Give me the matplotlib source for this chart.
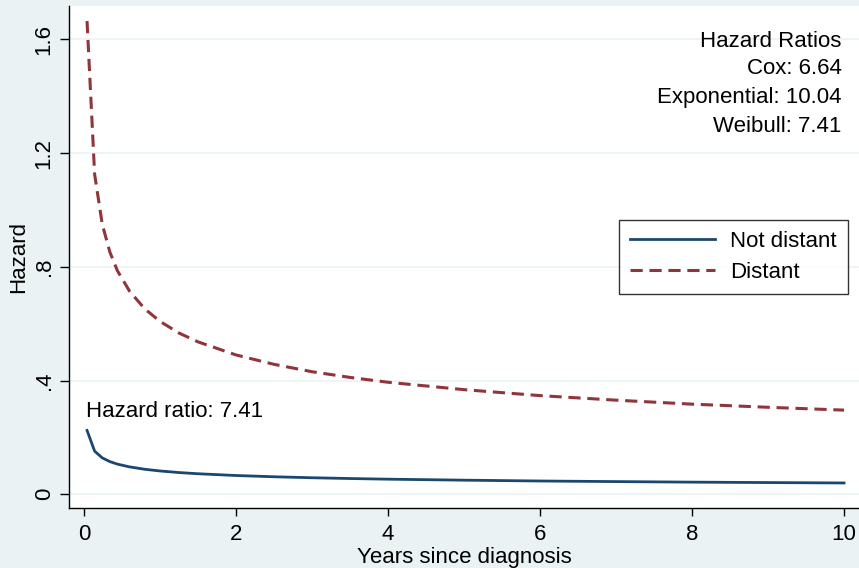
import matplotlib
matplotlib.use("Agg")
import matplotlib.pyplot as plt

plt.rcParams['font.family'] = ['Liberation Sans', 'DejaVu Sans']

# Fitted Weibull hazards by stage, read at these follow-up times (years)
years = [0.04, 0.14, 0.24, 0.34, 0.44, 0.6, 0.8, 1.0, 1.25, 1.5, 2.0, 2.5,
         3.0, 3.5, 4.0, 5.0, 6.0, 7.0, 8.0, 9.0, 10.0]
hazard_not_distant = [0.2246, 0.1518, 0.1282, 0.1150, 0.1061, 0.0964, 0.0880,
                      0.0821, 0.0765, 0.0723, 0.0661, 0.0617, 0.0582, 0.0555,
                      0.0532, 0.0497, 0.0468, 0.0447, 0.0428, 0.0413, 0.0399]
hazard_distant = [1.664, 1.125, 0.950, 0.852, 0.786, 0.714, 0.652, 0.608,
                  0.567, 0.536, 0.490, 0.457, 0.431, 0.411, 0.394, 0.368,
                  0.347, 0.331, 0.317, 0.306, 0.296]

series_labels = ['Not distant', 'Distant']
y_ticks = [0, 0.4, 0.8, 1.2, 1.6]
y_ticklabels = ['0', '.4', '.8', '1.2', '1.6']
x_ticks = [0, 2, 4, 6, 8, 10]

ratio_lines = ['Hazard Ratios', 'Cox: 6.64', 'Exponential: 10.04', 'Weibull: 7.41']
ratio_note = 'Hazard ratio: 7.41'

bg = '#eaf2f3'
navy = '#1a476f'
maroon = '#90353b'
fs = 16

fig = plt.figure(figsize=(8.59, 5.68), dpi=100, facecolor=bg)
ax = fig.add_axes([0.0807, 0.1051, 0.9193, 0.8849])
ax.set_facecolor('white')

ax.plot(years, hazard_not_distant, color=navy, lw=2.0, label=series_labels[0],
        solid_joinstyle='round', zorder=3)
ax.plot(years, hazard_distant, color=maroon, lw=2.2, dashes=(4.0, 2.2),
        label=series_labels[1], zorder=3)

ax.set_xlim(-0.193, 10.197)
ax.set_ylim(-0.0492, 1.718)

ax.set_yticks(y_ticks)
ax.set_yticklabels(y_ticklabels, rotation=90, va='center')
ax.set_xticks(x_ticks)
ax.tick_params(axis='both', labelsize=fs, direction='out', width=1,
               color='black')
ax.tick_params(axis='y', length=6.5, pad=4)
ax.tick_params(axis='x', length=6, pad=5)

ax.grid(axis='y', color=bg, lw=1.2)
ax.set_axisbelow(True)
for side in ['top', 'right']:
    ax.spines[side].set_visible(False)
for side in ['left', 'bottom']:
    ax.spines[side].set_color('black')
    ax.spines[side].set_linewidth(1)

ax.set_xlabel('Years since diagnosis', fontsize=fs, labelpad=2)
ax.set_ylabel('Hazard', fontsize=fs, labelpad=3)

# stacked hazard ratio summary, top right
ratio_y = [1.574, 1.478, 1.377, 1.275]
for txt, yv in zip(ratio_lines, ratio_y):
    ax.text(9.97, yv, txt, ha='right', va='baseline', fontsize=fs)

ax.text(0.03, 0.273, ratio_note, ha='left', va='baseline', fontsize=fs)

leg = ax.legend(loc='upper left', bbox_to_anchor=(0.6965, 0.5736),
                borderaxespad=0, fontsize=fs, frameon=True, fancybox=False,
                edgecolor='black', handlelength=3.8, handletextpad=0.7,
                borderpad=0.5, labelspacing=0.45)
leg.get_frame().set_linewidth(1)

fig.savefig('out.png', dpi=100, facecolor=bg)
